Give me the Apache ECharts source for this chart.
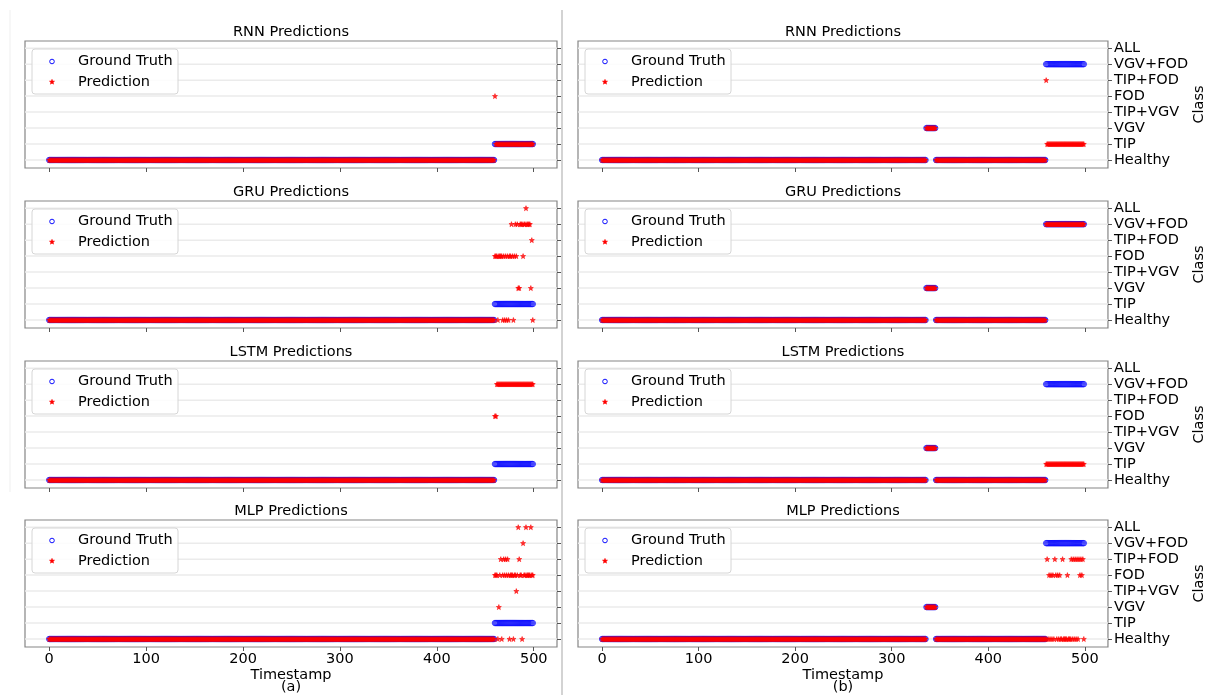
<!DOCTYPE html>
<html>
<head>
<meta charset="utf-8">
<script src="https://cdn.jsdelivr.net/npm/echarts@6/dist/echarts.min.js"></script>
<style>
  html, body { margin: 0; padding: 0; background: #fff; }
  #chart { width: 1208px; height: 695px; }
</style>
</head>
<body>
<div id="chart"></div>
<script>
// Class labels, index = value on the y axis
const classNames = ['Healthy', 'TIP', 'VGV', 'TIP+VGV', 'FOD', 'TIP+FOD', 'VGV+FOD', 'ALL'];
const classTicks = [0, 1, 2, 3, 4, 5, 6, 7];
const xTicks = [0, 100, 200, 300, 400, 500];
const modelNames = ['RNN', 'GRU', 'LSTM', 'MLP'];
const panelTags = ['(a)', '(b)'];

// Ground truth as [first timestamp, last timestamp, class] runs
const truthA = [[0, 459, 0], [460, 499, 1]];
const truthB = [[0, 335, 0], [336, 345, 2], [346, 459, 0], [460, 499, 6]];

// Predictions, same run format; "Tail" lists give one class per step from 460 on
const rnnA = [[0, 459, 0], [460, 460, 4], [461, 499, 1]];
const gruAHead = [[0, 459, 0]];
const gruATail = [4, 4, 4, 0, 4, 4, 4, 4, 0, 4,
                  0, 4, 0, 4, 0, 4, 4, 6, 4, 0,
                  4, 6, 4, 6, 2, 2, 6, 6, 6, 4,
                  6, 6, 7, 6, 6, 6, 6, 2, 5, 0];
const lstmA = [[0, 459, 0], [460, 461, 4], [462, 499, 6]];
const mlpAHead = [[0, 459, 0]];
const mlpATail = [4, 4, 4, 0, 2, 4, 5, 0, 4, 5,
                  4, 5, 4, 5, 4, 0, 4, 4, 4, 0,
                  4, 4, 3, 4, 7, 5, 4, 4, 0, 6,
                  4, 4, 7, 4, 4, 4, 4, 7, 4, 4];

const rnnB = [[0, 335, 0], [336, 345, 2], [346, 459, 0], [460, 460, 5], [461, 499, 1]];
const gruB = [[0, 335, 0], [336, 345, 2], [346, 459, 0], [460, 499, 6]];
const lstmB = [[0, 335, 0], [336, 345, 2], [346, 459, 0], [460, 499, 1]];
const mlpBHead = [[0, 335, 0], [336, 345, 2], [346, 459, 0]];
const mlpBTail = [0, 5, 0, 4, 0, 4, 0, 4, 0, 5,
                  4, 0, 4, 0, 4, 0, 0, 5, 0, 0,
                  0, 0, 4, 0, 0, 0, 5, 0, 5, 0,
                  5, 0, 5, 0, 5, 4, 5, 4, 5, 0];
const tailStart = 460;

function expandRuns(runs) {
  const pts = [];
  runs.forEach(([a, b, c]) => { for (let t = a; t <= b; t++) pts.push([t, c]); });
  return pts;
}
function expandTail(from, tail) {
  return tail.map((c, i) => [from + i, c]);
}

// panel data, row-major: [row][column]
const truthByCol = [expandRuns(truthA), expandRuns(truthB)];
const predGrid = [
  [expandRuns(rnnA), expandRuns(rnnB)],
  [expandRuns(gruAHead).concat(expandTail(tailStart, gruATail)), expandRuns(gruB)],
  [expandRuns(lstmA), expandRuns(lstmB)],
  [expandRuns(mlpAHead).concat(expandTail(tailStart, mlpATail)),
   expandRuns(mlpBHead).concat(expandTail(tailStart, mlpBTail))]
];

// layout
const colLeft = [25, 578];
const colWidth = [532, 530];
const rowTop = [41, 201, 361, 520];
const plotH = 127;
const FONT = 'DejaVu Sans, Liberation Sans, sans-serif';
const FS = 14.5;
const STAR = 'path://M50 0L61 35L98 35L68 57L79 91L50 70L21 91L32 57L2 35L39 35Z';

// five-pointed star outline for the legend marker
function starPoints(cx, cy, R) {
  const pts = [];
  for (let i = 0; i < 10; i++) {
    const rad = i % 2 === 0 ? R : R * 0.45;
    const a = -Math.PI / 2 + i * Math.PI / 5;
    pts.push([cx + rad * Math.cos(a), cy + rad * Math.sin(a)]);
  }
  return pts;
}

// one full-width horizontal line per class level
function renderGridLine(params, api) {
  const cs = params.coordSys;
  const y = api.coord([0, api.value(0)])[1];
  return {
    type: 'line',
    shape: { x1: cs.x, y1: y, x2: cs.x + cs.width, y2: y },
    style: { stroke: '#ebebeb', lineWidth: 1.5 }
  };
}

const grids = [], xAxes = [], yAxes = [], series = [], graphics = [];

for (let r = 0; r < 4; r++) {
  for (let c = 0; c < 2; c++) {
    const k = grids.length;
    grids.push({
      left: colLeft[c], top: rowTop[r], width: colWidth[c], height: plotH,
      show: true, borderColor: '#858585', borderWidth: 1.2, backgroundColor: 'transparent'
    });
    xAxes.push({
      gridIndex: k, type: 'value', min: -25, max: 524, position: 'bottom',
      axisLine: { show: false, onZero: false },
      axisTick: { show: true, customValues: xTicks, length: 4, lineStyle: { color: '#555', width: 1 } },
      axisLabel: { show: r === 3, customValues: xTicks, fontSize: FS, color: '#000', margin: 5, fontFamily: FONT },
      splitLine: { show: false },
      name: r === 3 ? 'Timestamp' : '',
      nameLocation: 'middle', nameGap: 19,
      nameTextStyle: { fontSize: FS, color: '#000', fontFamily: FONT, verticalAlign: 'top' }
    });
    yAxes.push({
      gridIndex: k, type: 'value', min: -0.5, max: 7.45, position: 'right',
      axisLine: { show: false, onZero: false },
      axisTick: { show: true, customValues: classTicks, length: 4, lineStyle: { color: '#555', width: 1 } },
      axisLabel: {
        show: c === 1, customValues: classTicks, formatter: v => classNames[v],
        fontSize: FS, color: '#000', margin: 6, fontFamily: FONT
      },
      splitLine: { show: false },
      name: c === 1 ? 'Class' : '',
      nameLocation: 'middle', nameRotate: 90, nameGap: 82,
      nameTextStyle: { fontSize: FS, color: '#000', fontFamily: FONT }
    });

    // horizontal gridlines at each class
    series.push({
      type: 'custom', xAxisIndex: k, yAxisIndex: k, z: 1, silent: true,
      data: classTicks.map(v => [v]), encode: { y: 0 },
      renderItem: renderGridLine, animation: false
    });
    series.push({
      name: 'Ground Truth', type: 'scatter', xAxisIndex: k, yAxisIndex: k, z: 2,
      data: truthByCol[c], symbol: 'circle', symbolSize: 5.5, silent: true,
      itemStyle: { color: 'rgba(0,0,255,0)', borderColor: '#1010ff', borderWidth: 1 },
      emphasis: { disabled: true }, animation: false
    });
    series.push({
      name: 'Prediction', type: 'scatter', xAxisIndex: k, yAxisIndex: k, z: 3,
      data: predGrid[r][c], symbol: STAR, symbolSize: 5, silent: true,
      itemStyle: { color: '#ff0000', borderColor: '#ff0000', borderWidth: 0.7 },
      emphasis: { disabled: true }, animation: false
    });

    // subplot title
    graphics.push({
      type: 'text', x: colLeft[c] + colWidth[c] / 2, y: rowTop[r] - 9, z: 100,
      style: { text: modelNames[r] + ' Predictions', textAlign: 'center', textVerticalAlign: 'middle',
               font: FS + 'px ' + FONT, fill: '#000' }
    });

    // legend box
    const lx = colLeft[c] + 7, ly = rowTop[r] + 8;
    graphics.push(
      { type: 'rect', z: 100, shape: { x: lx, y: ly, width: 146, height: 45, r: 3 },
        style: { fill: 'rgba(255,255,255,0.85)', stroke: '#d6d6d6', lineWidth: 1 } },
      { type: 'circle', z: 101, shape: { cx: lx + 20, cy: ly + 12.5, r: 2.3 },
        style: { fill: 'none', stroke: '#1010ff', lineWidth: 1 } },
      { type: 'polygon', z: 101, shape: { points: starPoints(lx + 20, ly + 33, 2.7) },
        style: { fill: '#ff0000', stroke: '#ff0000', lineWidth: 0.5 } },
      { type: 'text', z: 101, x: lx + 46, y: ly + 12.5,
        style: { text: 'Ground Truth', textVerticalAlign: 'middle', font: FS + 'px ' + FONT, fill: '#000' } },
      { type: 'text', z: 101, x: lx + 46, y: ly + 33,
        style: { text: 'Prediction', textVerticalAlign: 'middle', font: FS + 'px ' + FONT, fill: '#000' } }
    );
  }
}

// sub-figure tags
panelTags.forEach((tag, c) => {
  graphics.push({
    type: 'text', x: colLeft[c] + colWidth[c] / 2, y: 687, z: 100,
    style: { text: tag, textAlign: 'center', textVerticalAlign: 'middle', font: FS + 'px ' + FONT, fill: '#000' }
  });
});
// divider between the two halves and faint outer edge on the left
graphics.push({ type: 'line', z: 100, shape: { x1: 562, y1: 10, x2: 562, y2: 695 },
                style: { stroke: '#c4c4c4', lineWidth: 1.5 } });
graphics.push({ type: 'line', z: 100, shape: { x1: 10, y1: 10, x2: 10, y2: 492 },
                style: { stroke: '#efefef', lineWidth: 1 } });

const chart = echarts.init(document.getElementById('chart'), null, { renderer: 'canvas' });
chart.setOption({
  backgroundColor: '#fff',
  animation: false,
  textStyle: { fontFamily: FONT },
  grid: grids,
  xAxis: xAxes,
  yAxis: yAxes,
  series: series,
  graphic: graphics
});
</script>
</body>
</html>
